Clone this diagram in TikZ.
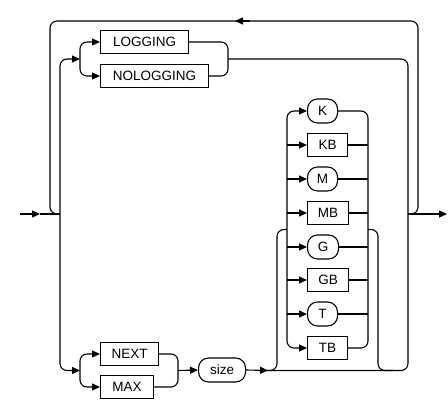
\documentclass[tikz,border=0pt]{standalone}
\usepackage{fontspec}
\setmainfont{Liberation Sans}
\usetikzlibrary{arrows.meta}
\begin{document}
\begin{tikzpicture}[x=1pt,y=-1pt,
  line width=1.1pt,
  rc/.style={rounded corners=7pt},
  arr/.style={-{Triangle[length=8pt,width=7pt]}},
  term/.style={draw, rectangle, minimum height=23pt, inner sep=0pt, font=\fontsize{13.5}{15}\selectfont, anchor=west},
  capsule/.style={draw, rectangle, rounded corners=10pt, minimum height=24pt, inner sep=0pt, font=\fontsize{13.5}{15}\selectfont, anchor=west},
]
\useasboundingbox (0,0) rectangle (448,409);
% nodes
\node[term, minimum width=88pt]  (log)   at (100,42)  {LOGGING};
\node[term, minimum width=108pt] (nolog) at (100,76)  {NOLOGGING};
\node[term, minimum width=58pt]  (next)  at (100,354) {NEXT};
\node[term, minimum width=53pt]  (max)   at (100,387) {MAX};
\node[capsule, minimum width=47pt]  (size)  at (198,370) {size};
\node[capsule, minimum width=30pt]  (k)  at (307,111) {K};
\node[term, minimum width=40pt]  (kb) at (307,145) {KB};
\node[capsule, minimum width=30pt]  (m)  at (307,179) {M};
\node[term, minimum width=41pt]  (mb) at (307,213) {MB};
\node[capsule, minimum width=31pt]  (g)  at (307,247) {G};
\node[term, minimum width=41pt]  (gb) at (307,280) {GB};
\node[capsule, minimum width=30pt]  (t)  at (307,314) {T};
\node[term, minimum width=40pt]  (tb) at (307,348) {TB};
% coordinates
\coordinate (in) at (20,214);
\coordinate (a0) at (40,214);
\coordinate (jl) at (60,214);
\coordinate (jr) at (408,214);
\coordinate (out) at (447,214);
\coordinate (ua) at (80,59);
\coordinate (ub) at (228,59);
\coordinate (la) at (80,370.5);
\coordinate (lb) at (178,370.5);
\coordinate (sa) at (268,370.5);
\coordinate (bl) at (262,370.5);
\coordinate (br) at (393,370.5);
\coordinate (ra) at (287,229.5);
\coordinate (rb) at (368,229.5);
\coordinate (loopR) at (418,21);
\coordinate (loopL) at (50,21);
\coordinate (loopA) at (235,21);
\coordinate (loopAS) at (250,21);
% main line
\draw[arr] (in) -- (a0);
\draw (a0) -- (jl);
\draw[arr] (jr) -- (out);
% repeat loop
\draw[rc] (jr) -| (loopR) -- (loopL) |- (jl);
\draw[arr] (loopAS) -- (loopA);
% upper branch
\draw[arr, rc] (jl) |- (ua);
\draw[arr, rc] (ua) |- (log.west);
\draw[arr, rc] (ua) |- (nolog.west);
\draw[rc] (log.east) -| (ub);
\draw[rc] (nolog.east) -| (ub);
\draw[rc] (ub) -| (jr);
% lower branch
\draw[arr, rc] (jl) |- (la);
\draw[arr, rc] (la) |- (next.west);
\draw[arr, rc] (la) |- (max.west);
\draw[rc] (next.east) -| (lb);
\draw[rc] (max.east) -| (lb);
\draw[arr] (lb) -- (size.west);
\draw[arr] (size.east) -- (sa);
\draw[rc] (sa) -| (jr);
% optional unit group brackets
\draw[rc] (bl) -| ([xshift=-10pt]ra) -- (ra);
\draw[rc] (rb) -- ([xshift=10pt]rb) |- (br);
% rails
\draw[arr, rc] (ra) |- (k.west);
\draw[arr, rc] (ra) |- (tb.west);
\draw[arr] (ra |- kb.west) -- (kb.west);
\draw[arr] (ra |- m.west) -- (m.west);
\draw[arr] (ra |- mb.west) -- (mb.west);
\draw[arr] (ra |- g.west) -- (g.west);
\draw[arr] (ra |- gb.west) -- (gb.west);
\draw[arr] (ra |- t.west) -- (t.west);
\draw[rc] (k.east) -| (rb);
\draw[rc] (tb.east) -| (rb);
\draw (kb.east) -- (rb |- kb.east);
\draw (m.east) -- (rb |- m.east);
\draw (mb.east) -- (rb |- mb.east);
\draw (g.east) -- (rb |- g.east);
\draw (gb.east) -- (rb |- gb.east);
\draw (t.east) -- (rb |- t.east);
\end{tikzpicture}
\end{document}
